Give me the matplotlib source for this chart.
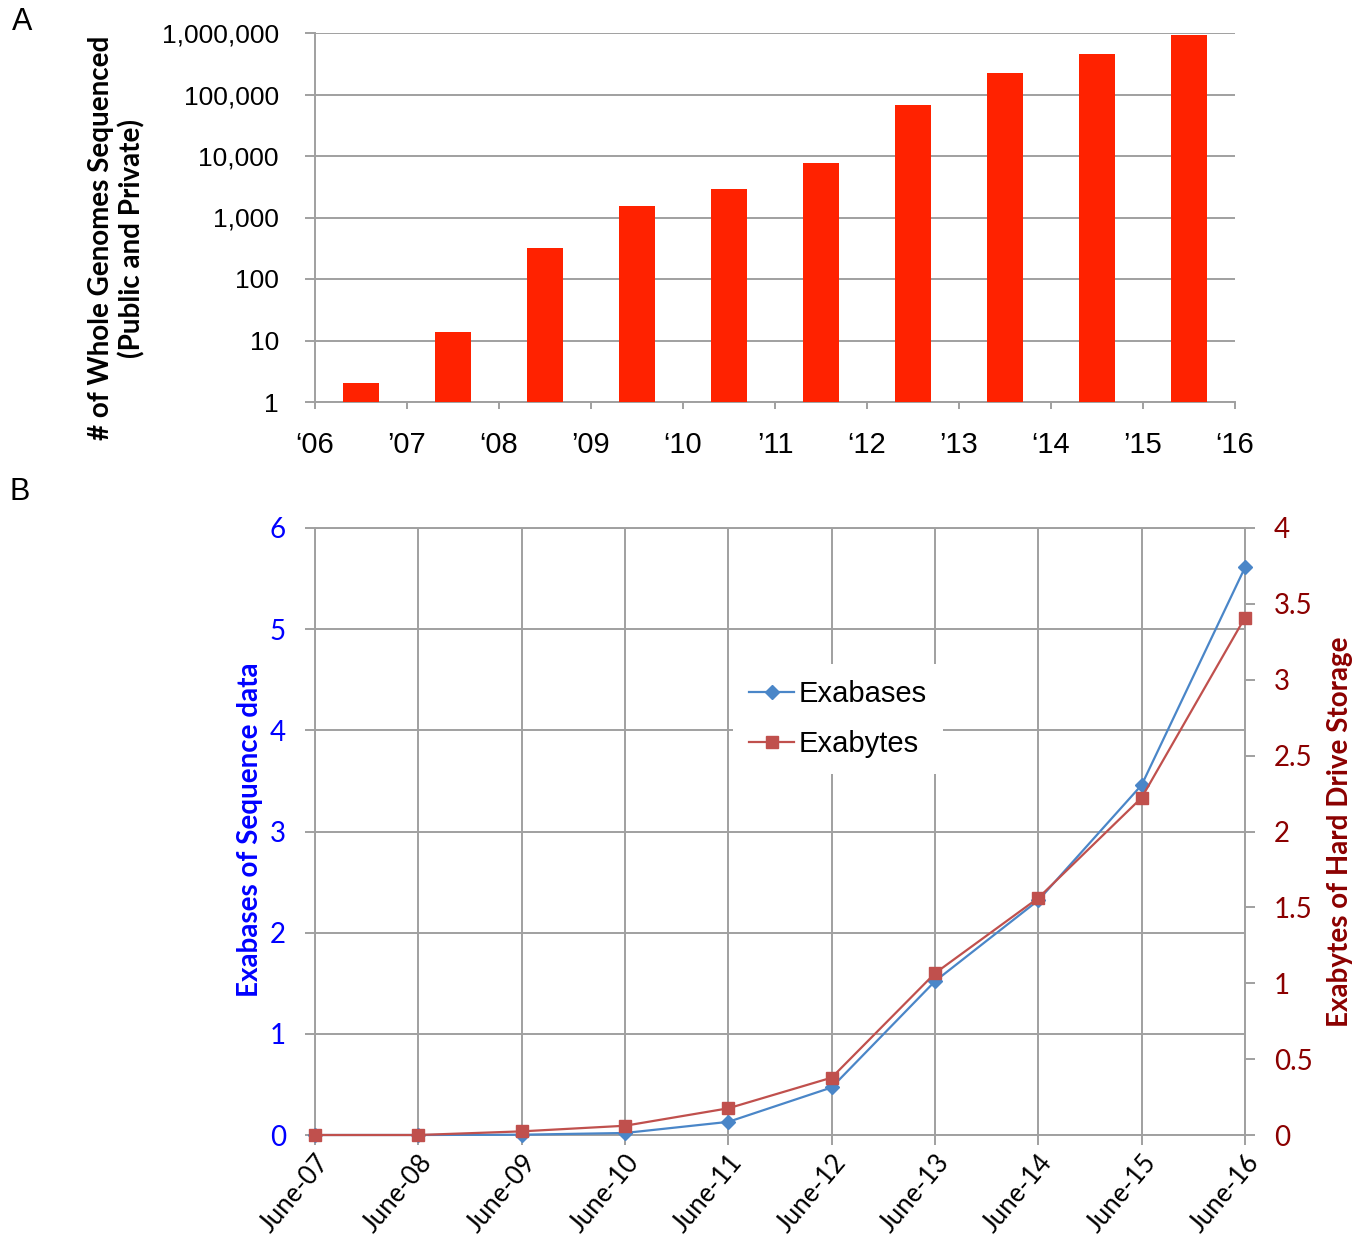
import matplotlib.pyplot as plt
import numpy as np

# genomes sequenced per year (log scale bars)
years = ["\u201806", "\u201907", "\u201808", "\u201909", "\u201810", "\u201911",
         "\u201812", "\u201913", "\u201814", "\u201915", "\u201816"]
genomes = [2, 14, 320, 1550, 2900, 7800, 68000, 225000, 460000, 920000]

# sequence data vs storage
months = ["June-07", "June-08", "June-09", "June-10", "June-11",
          "June-12", "June-13", "June-14", "June-15", "June-16"]
exabases = [0.0, 0.0, 0.003, 0.02, 0.13, 0.47, 1.52, 2.32, 3.46, 5.61]
exabytes = [0.0, 0.0, 0.024, 0.061, 0.176, 0.378, 1.066, 1.562, 2.223, 3.41]

W, H = 1370, 1245
fig = plt.figure(figsize=(W / 100, H / 100), dpi=100)

GRID = "#a0a0a0"
calibri = ["Lato", "DejaVu Sans"]
arial = ["Liberation Sans", "DejaVu Sans"]


def px_axes(x0, y0, x1, y1):
    return fig.add_axes([x0 / W, 1 - y1 / H, (x1 - x0) / W, (y1 - y0) / H])


# ---------- panel A ----------
axA = px_axes(315, 33, 1235, 402)
xpos = np.arange(len(genomes)) + 0.5
axA.bar(xpos, genomes, width=0.4, color="#ff2200", zorder=3)
axA.set_yscale("log")
axA.set_ylim(1, 1e6)
axA.set_xlim(0, 10)
yt = [1, 10, 100, 1000, 10000, 100000, 1000000]
axA.set_yticks(yt)
axA.set_yticklabels([f"{v:,}" for v in yt], fontfamily=arial, fontsize=19)
axA.yaxis.set_minor_locator(plt.NullLocator())
axA.set_xticks(np.arange(11))
axA.set_xticklabels(years, fontfamily=arial, fontsize=21)
axA.grid(axis="y", color=GRID, linewidth=1.4, zorder=0)
for s in ["top", "right"]:
    axA.spines[s].set_visible(False)
for s in ["left", "bottom"]:
    axA.spines[s].set_color(GRID)
    axA.spines[s].set_linewidth(1.4)
axA.tick_params(axis="y", length=7, width=1.4, color=GRID, pad=19)
axA.tick_params(axis="x", length=5, width=1.4, color=GRID, pad=16)

fig.text(117 / W, 1 - 238 / H, "# of Whole Genomes Sequenced\n(Public and Private)",
         rotation=90, ha="center", va="center", multialignment="center",
         fontfamily=calibri, fontweight="bold", fontsize=20, linespacing=1.2)
fig.text(22 / W, 1 - 22 / H, "A", ha="center", va="center",
         fontfamily=arial, fontsize=22)

# ---------- panel B ----------
axB = px_axes(315, 528, 1245, 1135)
x = np.arange(len(months))
l1, = axB.plot(x, exabases, color="#4a86c8", linewidth=1.6, marker="D",
               markersize=7, zorder=4, clip_on=False, label="Exabases")
axB.set_xlim(0, 9)
axB.set_ylim(0, 6)
axB.set_yticks(range(7))
axB.set_xticks(x)
axB.set_xticklabels(months, rotation=50, ha="right", rotation_mode="anchor",
                    fontfamily=calibri, fontsize=18.5)
axB.grid(True, color=GRID, linewidth=1.4, zorder=0)
axB.set_axisbelow(True)
for s in axB.spines.values():
    s.set_color(GRID)
    s.set_linewidth(1.4)
axB.tick_params(axis="y", length=7, width=1.4, color=GRID, pad=14,
                labelcolor="#0000ff", labelsize=20)
axB.tick_params(axis="x", length=7, width=1.4, color=GRID, pad=4)
for t in axB.get_yticklabels():
    t.set_fontfamily(calibri)

axR = axB.twinx()
l2, = axR.plot(x, exabytes, color="#c0504d", linewidth=1.6, marker="s",
               markersize=9, zorder=4, clip_on=False, label="Exabytes")
axR.set_ylim(0, 4)
axR.set_yticks(np.arange(0, 4.01, 0.5))
axR.set_yticklabels([f"{v:g}" for v in np.arange(0, 4.01, 0.5)],
                    fontfamily=calibri)
for s in axR.spines.values():
    s.set_visible(False)
axR.tick_params(axis="y", length=7, width=1.4, color=GRID, pad=14,
                labelcolor="#8b0000", labelsize=20)

leg = axR.legend(handles=[l1, l2], loc="upper left",
                 bbox_to_anchor=((733 - 315) / 930, (1135 - 664) / 607),
                 borderaxespad=0, frameon=True, fancybox=False,
                 handlelength=1.55, handletextpad=0.15, borderpad=0.55,
                 labelspacing=0.75, prop={"family": arial, "size": 21})
leg.get_frame().set_facecolor("white")
leg.get_frame().set_edgecolor("none")
leg.get_frame().set_alpha(1)

fig.text(250 / W, 1 - 830 / H, "Exabases of Sequence data", rotation=90,
         ha="center", va="center", color="#0000ff",
         fontfamily=calibri, fontweight="bold", fontsize=20)
fig.text(1340 / W, 1 - 832 / H, "Exabytes of Hard Drive Storage", rotation=90,
         ha="center", va="center", color="#8b0000",
         fontfamily=calibri, fontweight="bold", fontsize=20)
fig.text(20 / W, 1 - 492 / H, "B", ha="center", va="center",
         fontfamily=arial, fontsize=22)

fig.savefig("out.png", dpi=100)
